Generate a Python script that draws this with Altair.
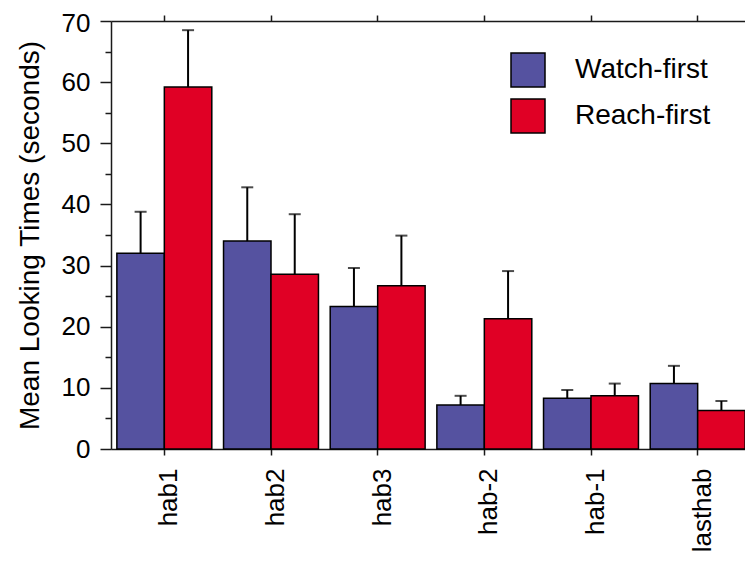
import altair as alt
import pandas as pd

categories = ["hab1", "hab2", "hab3", "hab-2", "hab-1", "lasthab"]
groups = ["Watch-first", "Reach-first"]
colors = ["#5552A0", "#E00025"]
watch_mean = [32.0, 34.0, 23.3, 7.2, 8.3, 10.7]
watch_err = [6.8, 8.8, 6.3, 1.5, 1.35, 2.9]
reach_mean = [59.2, 28.6, 26.7, 21.3, 8.7, 6.3]
reach_err = [9.3, 9.8, 8.2, 7.8, 2.0, 1.55]

rows = []
for i, c in enumerate(categories):
    rows.append({"cat": c, "group": groups[0], "mean": watch_mean[i], "top": watch_mean[i] + watch_err[i]})
    rows.append({"cat": c, "group": groups[1], "mean": reach_mean[i], "top": reach_mean[i] + reach_err[i]})
df = pd.DataFrame(rows)

FONT = "Liberation Sans"
INK = "#1a1a1a"

xscale = alt.Scale(paddingInner=0.11, paddingOuter=0.055)
yscale = alt.Scale(domain=[0, 70], nice=False, zero=True)
xoff = alt.XOffset("group:N", sort=groups, scale=alt.Scale(paddingInner=0, paddingOuter=0))

bottom_axis = alt.Axis(
    orient="bottom", title=None, labelAngle=270, labelFontSize=26, labelFont=FONT,
    labelColor="black", labelPadding=13, labelOffset=5, tickSize=6, tickWidth=1.5,
    tickColor=INK, domainColor=INK, domainWidth=1.5, grid=False,
)
left_axis = alt.Axis(
    orient="left", title="Mean Looking Times (seconds)", values=list(range(0, 71, 5)),
    labelExpr="datum.value % 10 == 0 ? datum.label : ''",
    tickSize={"condition": {"test": "datum.value % 10 == 0", "value": 11}, "value": 6},
    labelOffset={"condition": {"test": "datum.value == 70", "value": 2}, "value": 0},
    labelFontSize=26, labelFont=FONT, labelColor="black", labelPadding=10,
    tickWidth=1.5, tickColor=INK, domainColor=INK, domainWidth=1.5, grid=False,
    titleFontSize=28, titleFont=FONT, titleFontWeight="normal", titleColor="black",
    titlePadding=17,
)
top_axis = alt.Axis(
    orient="top", title=None, labels=False, tickSize=6, tickWidth=1.5, tickColor=INK,
    domainColor=INK, domainWidth=1.5, grid=False,
)
right_axis = alt.Axis(
    orient="right", title=None, labels=False, values=list(range(0, 71, 5)), tickSize=6,
    tickWidth=1.5, tickColor=INK, domainColor=INK, domainWidth=1.5, grid=False,
)

base = alt.Chart(df)

bars = base.mark_bar(stroke="black", strokeWidth=1.5).encode(
    x=alt.X("cat:N", sort=categories, scale=xscale, axis=bottom_axis),
    xOffset=xoff,
    y=alt.Y("mean:Q", scale=yscale, axis=left_axis),
    color=alt.Color(
        "group:N", sort=groups, scale=alt.Scale(domain=groups, range=colors),
        legend=alt.Legend(
            title=None, orient="none", legendX=399, legendY=31, padding=0,
            symbolType="square", symbolSize=1156, symbolStrokeColor="black",
            symbolStrokeWidth=1.5, symbolOpacity=1, labelFontSize=28, labelFont=FONT,
            labelColor="black", labelOffset=29, rowPadding=6,
        ),
    ),
)

rules = base.mark_rule(color="black", strokeWidth=2).encode(
    x=alt.X("cat:N", sort=categories, scale=xscale, axis=top_axis),
    xOffset=xoff,
    y=alt.Y("mean:Q", scale=yscale, axis=right_axis),
    y2="top:Q",
)

caps = base.mark_tick(color="black", thickness=2, size=12).encode(
    x=alt.X("cat:N", sort=categories, scale=xscale, axis=None),
    xOffset=xoff,
    y=alt.Y("top:Q", scale=yscale, axis=None),
)

chart = (
    alt.layer(bars, rules, caps)
    .resolve_axis(x="independent", y="independent")
    .properties(
        width=640, height=428,
        autosize=alt.AutoSizeParams(type="none"),
        padding={"left": 103, "top": 13, "right": -6, "bottom": 105},
    )
    .configure_view(stroke=None)
    .configure(background="white")
)

chart.save("out.html", embed_options={"renderer": "svg", "actions": False})
